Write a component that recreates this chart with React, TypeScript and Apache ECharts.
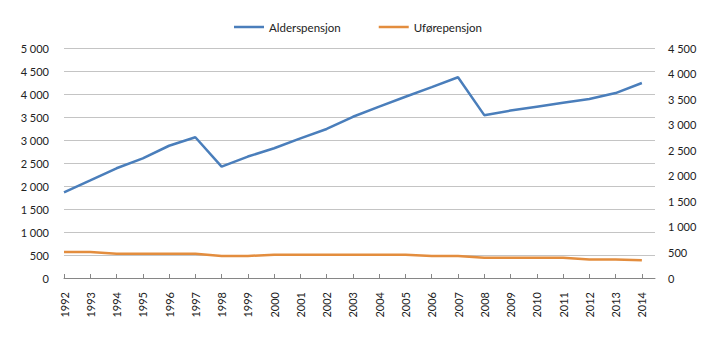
import React, { useEffect, useRef } from "react";
import * as echarts from "echarts";

const years = [1992, 1993, 1994, 1995, 1996, 1997, 1998, 1999, 2000, 2001, 2002, 2003, 2004, 2005, 2006, 2007, 2008, 2009, 2010, 2011, 2012, 2013, 2014];
const alderspensjon = [1860, 2120, 2385, 2600, 2875, 3060, 2420, 2640, 2820, 3035, 3240, 3505, 3725, 3940, 4150, 4365, 3540, 3640, 3725, 3810, 3890, 4020, 4240];
const uforepensjon = [508, 508, 476, 476, 476, 476, 430, 430, 456, 456, 456, 456, 456, 456, 430, 430, 398, 398, 398, 398, 360, 360, 346];
const leftTicks = [0, 500, 1000, 1500, 2000, 2500, 3000, 3500, 4000, 4500, 5000];
const rightTicks = [0, 500, 1000, 1500, 2000, 2500, 3000, 3500, 4000, 4500];

const fmt = (v: number) => {
  const s = String(Math.round(v));
  return s.replace(/\B(?=(\d{3})+(?!\d))/g, " ");
};

const FONT = "Lato";

export default function App() {
  const ref = useRef<HTMLDivElement>(null);
  useEffect(() => {
    if (!ref.current) return;
    const chart = echarts.init(ref.current, undefined, { renderer: "svg" });
    chart.setOption({
      animation: false,
      backgroundColor: "#ffffff",
      textStyle: { fontFamily: FONT },
      legend: {
        left: 229,
        top: 16,
        icon: "rect",
        itemWidth: 30,
        itemHeight: 2.5,
        itemGap: 38,
        textStyle: { fontFamily: FONT, fontSize: 11.5, color: "#222" },
        data: ["Alderspensjon", "Uførepensjon"],
      },
      grid: { left: 64, right: 65, top: 48, bottom: 63, containLabel: false },
      xAxis: {
        type: "value",
        min: 1992,
        max: 2014.5,
        interval: 1,
        splitLine: { show: false },
        axisLine: { show: true, lineStyle: { color: "#868686", width: 1 } },
        axisTick: { show: true, inside: true, length: 4, lineStyle: { color: "#868686" }, customValues: years },
        axisLabel: {
          rotate: 90,
          margin: 14,
          fontSize: 11,
          color: "#222",
          fontFamily: FONT,
          customValues: years,
          formatter: (v: number) => (Number.isInteger(v) && v <= 2014 ? String(v) : ""),
        },
      },
      yAxis: [
        {
          type: "value",
          min: 0,
          max: 5000,
          interval: 500,
          axisLine: { show: false },
          axisTick: { show: false },
          splitLine: { show: true, lineStyle: { color: "#c4c4c4", width: 1 } },
          axisLabel: {
            margin: 15,
            fontSize: 11,
            color: "#222",
            fontFamily: FONT,
            customValues: leftTicks,
            formatter: (v: number) => fmt(v),
          },
        },
        {
          type: "value",
          min: 0,
          max: 4500,
          interval: 500,
          position: "right",
          axisLine: { show: false },
          axisTick: { show: false },
          splitLine: { show: false },
          axisLabel: {
            margin: 13,
            fontSize: 11,
            color: "#222",
            fontFamily: FONT,
            customValues: rightTicks,
            formatter: (v: number) => fmt(v),
          },
        },
      ],
      series: [
        {
          name: "Alderspensjon",
          type: "line",
          yAxisIndex: 0,
          data: years.map((y, i) => [y, alderspensjon[i]]),
          symbol: "none",
          lineStyle: { color: "#4A7EBB", width: 2.5 },
          itemStyle: { color: "#4A7EBB" },
        },
        {
          name: "Uførepensjon",
          type: "line",
          yAxisIndex: 1,
          data: years.map((y, i) => [y, uforepensjon[i]]),
          symbol: "none",
          lineStyle: { color: "#E38D3E", width: 2.5 },
          itemStyle: { color: "#E38D3E" },
        },
      ],
    });
    return () => chart.dispose();
  }, []);
  return <div ref={ref} style={{ position: "fixed", left: 0, top: 0, width: 720, height: 341 }} />;
}
